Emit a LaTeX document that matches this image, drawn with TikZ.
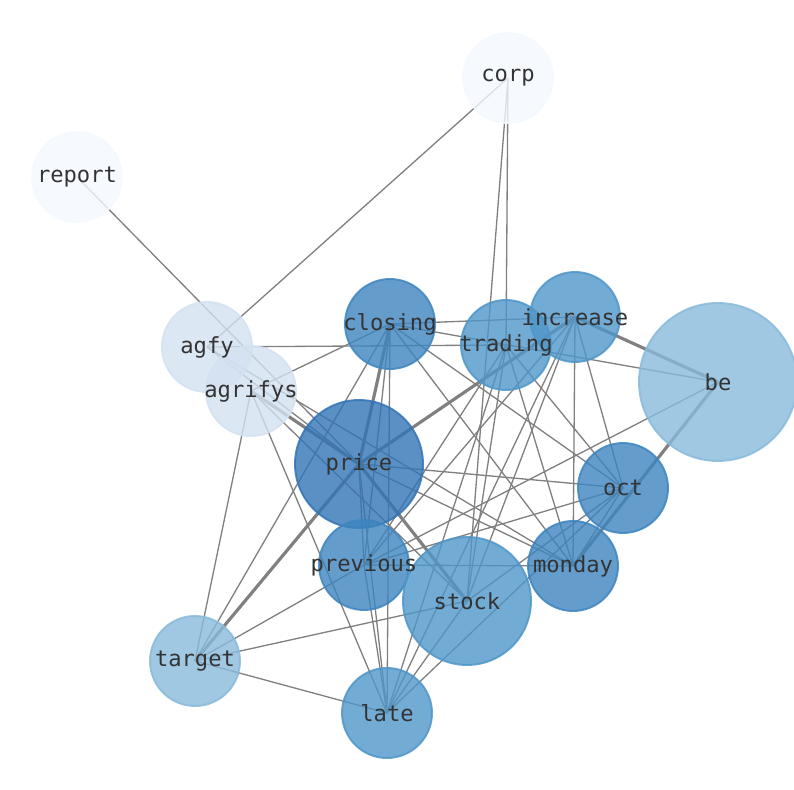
\documentclass[tikz,border=0pt]{standalone}
\usepackage{fontspec}
\setmonofont{DejaVu Sans Mono}
\definecolor{palest}{HTML}{F4F9FF}
\definecolor{pale}{HTML}{D3E1F1}
\definecolor{soft}{HTML}{88BADB}
\definecolor{mid}{HTML}{4F96C9}
\definecolor{deep}{HTML}{3D85BF}
\definecolor{deepest}{HTML}{3274B6}
\definecolor{wordink}{HTML}{333333}
\definecolor{linkgray}{HTML}{808080}
\pgfdeclarelayer{back}
\pgfsetlayers{back,main}
\begin{document}
\begin{tikzpicture}[x=0.02cm,y=-0.02cm,
 word/.style={circle,inner sep=0pt,fill opacity=0.8,draw opacity=0.85,line width=1.1pt},
 small/.style={word,minimum size=1.80cm},
 big/.style={word,minimum size=2.56cm},
 huge/.style={word,minimum size=3.16cm},
 tag/.style={inner sep=0pt,text=wordink,font=\ttfamily\fontsize{12.6}{14}\selectfont},
 link/.style={linkgray,line width=0.75pt},
 heavy/.style={linkgray,line width=1.8pt}]
 \useasboundingbox (0,0) rectangle (794,790);
 % circles
 \node[small,fill=palest,draw=palest] (corp) at (508,78) {};
 \node[small,fill=palest,draw=palest] (report) at (77,177) {};
 \node[small,fill=pale,draw=pale] (agfy) at (207,347) {};
 \node[small,fill=pale,draw=pale] (agrifys) at (251,391) {};
 \node[small,fill=deep,draw=deep] (closing) at (390,324) {};
 \node[small,fill=mid,draw=mid] (trading) at (506,345) {};
 \node[small,fill=mid,draw=mid] (increase) at (575,317) {};
 \node[huge,fill=soft,draw=soft] (be) at (718,382) {};
 \node[big,fill=deepest,draw=deepest] (price) at (359,464) {};
 \node[small,fill=deep,draw=deep] (oct) at (623,488) {};
 \node[small,fill=deep,draw=deep] (previous) at (364,565) {};
 \node[small,fill=deep,draw=deep] (monday) at (573,566) {};
 \node[big,fill=mid,draw=mid] (stock) at (467,601) {};
 \node[small,fill=soft,draw=soft] (target) at (195,661) {};
 \node[small,fill=mid,draw=mid] (late) at (387,713) {};
 % words
 \node[tag] (corp-t) at (corp) {corp};
 \node[tag] (report-t) at (report) {report};
 \node[tag] (agfy-t) at (agfy) {agfy};
 \node[tag] (agrifys-t) at (agrifys) {agrifys};
 \node[tag] (closing-t) at (closing) {closing};
 \node[tag] (trading-t) at (trading) {trading};
 \node[tag] (increase-t) at (increase) {increase};
 \node[tag] (be-t) at (be) {be};
 \node[tag] (price-t) at (price) {price};
 \node[tag] (oct-t) at (oct) {oct};
 \node[tag] (previous-t) at (previous) {previous};
 \node[tag] (monday-t) at (monday) {monday};
 \node[tag] (stock-t) at (stock) {stock};
 \node[tag] (target-t) at (target) {target};
 \node[tag] (late-t) at (late) {late};
 \begin{pgfonlayer}{back}
 \draw[link] (corp.center) -- (agfy.center);
 \draw[link] (corp.center) -- (trading.center);
 \draw[link] (corp.center) -- (stock.center);
 \draw[link] (report.center) -- (price.center);
 \draw[link] (agfy.center) -- (trading.center);
 \draw[link] (agfy.center) -- (price.center);
 \draw[link] (agfy.center) -- (monday.center);
 \draw[link] (agrifys.center) -- (closing.center);
 \draw[heavy] (agrifys.center) -- (price.center);
 \draw[link] (agrifys.center) -- (target.center);
 \draw[link] (agrifys.center) -- (late.center);
 \draw[link] (agrifys.center) -- (stock.center);
 \draw[link] (closing.center) -- (increase.center);
 \draw[link] (closing.center) -- (be.center);
 \draw[heavy] (closing.center) -- (price.center);
 \draw[link] (closing.center) -- (previous.center);
 \draw[link] (closing.center) -- (late.center);
 \draw[link] (closing.center) -- (target.center);
 \draw[link] (closing.center) -- (oct.center);
 \draw[link] (closing.center) -- (monday.center);
 \draw[link] (trading.center) -- (previous.center);
 \draw[link] (trading.center) -- (late.center);
 \draw[link] (trading.center) -- (stock.center);
 \draw[link] (trading.center) -- (monday.center);
 \draw[link] (trading.center) -- (oct.center);
 \draw[heavy] (increase.center) -- (price.center);
 \draw[heavy] (increase.center) -- (be.center);
 \draw[link] (increase.center) -- (previous.center);
 \draw[link] (increase.center) -- (late.center);
 \draw[link] (increase.center) -- (stock.center);
 \draw[link] (increase.center) -- (monday.center);
 \draw[link] (increase.center) -- (oct.center);
 \draw[link] (be.center) -- (previous.center);
 \draw[heavy] (be.center) -- (monday.center);
 \draw[link] (price.center) -- (oct.center);
 \draw[link] (price.center) -- (monday.center);
 \draw[heavy] (price.center) -- (stock.center);
 \draw[link] (price.center) -- (previous.center);
 \draw[link] (price.center) -- (late.center);
 \draw[heavy] (price.center) -- (target.center);
 \draw[link] (previous.center) -- (oct.center);
 \draw[link] (previous.center) -- (monday.center);
 \draw[link] (previous.center) -- (target.center);
 \draw[link] (previous.center) -- (late.center);
 \draw[link] (oct.center) -- (stock.center);
 \draw[link] (oct.center) -- (late.center);
 \draw[link] (oct.center) -- (monday.center);
 \draw[link] (stock.center) -- (target.center);
 \draw[link] (stock.center) -- (late.center);
 \draw[link] (target.center) -- (late.center);
 \end{pgfonlayer}
\end{tikzpicture}
\end{document}
